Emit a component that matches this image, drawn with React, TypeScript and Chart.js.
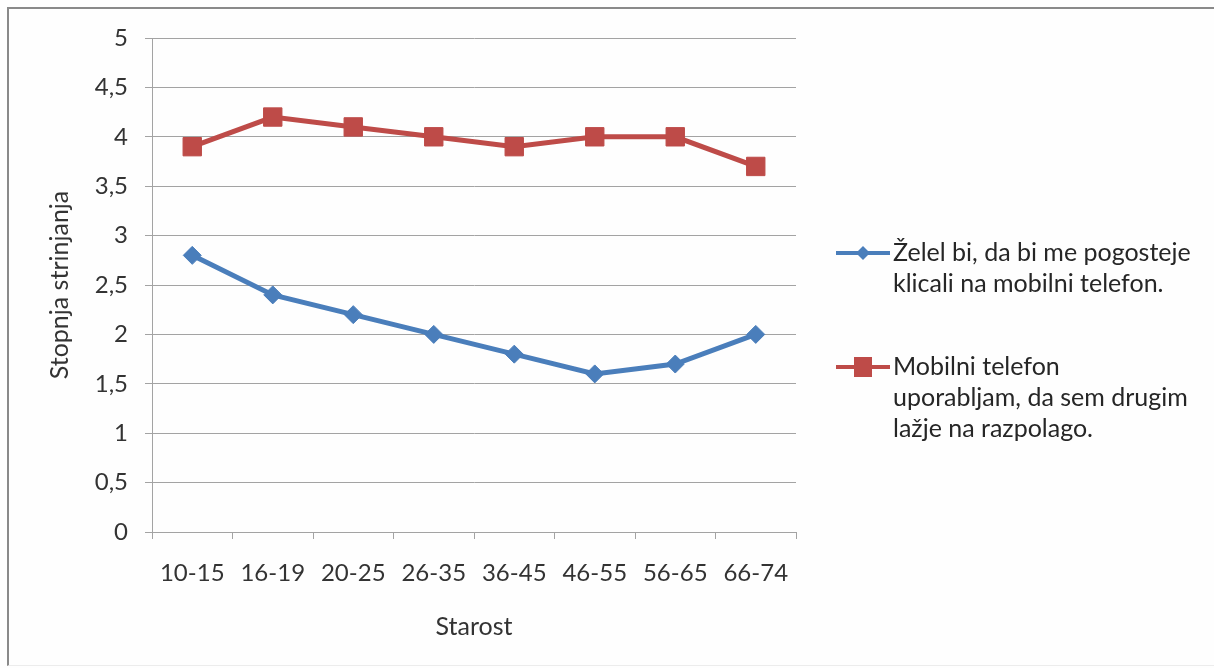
import React, { useEffect, useRef } from "react";
import { Chart, registerables } from "chart.js";

Chart.register(...registerables);

const categories = ["10-15", "16-19", "20-25", "26-35", "36-45", "46-55", "56-65", "66-74"];
const seriesCallsWish = [2.8, 2.4, 2.2, 2.0, 1.8, 1.6, 1.7, 2.0];
const seriesAvailability = [3.9, 4.2, 4.1, 4.0, 3.9, 4.0, 4.0, 3.7];
const nameCallsWish = "Želel bi, da bi me pogosteje klicali na mobilni telefon.";
const nameAvailability = "Mobilni telefon uporabljam, da sem drugim lažje na razpolago.";
const legendCallsWish = ["Želel bi, da bi me pogosteje", "klicali na mobilni telefon."];
const legendAvailability = ["Mobilni telefon", "uporabljam, da sem drugim", "lažje na razpolago."];
const xTitle = "Starost";
const yTitle = "Stopnja strinjanja";
const yMin = 0;
const yMax = 5;
const yStep = 0.5;

const BLUE = "#4a7ebb";
const RED = "#be4b48";
const TEXT = "#333333";
const GRID = "#a3a3a3";
const FONT = "Lato, 'Open Sans', sans-serif";

const sideLegend = {
  id: "sideLegend",
  afterDraw(chart: any) {
    const ctx = chart.ctx as CanvasRenderingContext2D;
    const items = [
      { lines: legendCallsWish, ds: 0, y: 253, marker: "diamond" },
      { lines: legendAvailability, ds: 1, y: 367, marker: "square" },
    ];
    ctx.save();
    items.forEach((it) => {
      const ds = chart.data.datasets[it.ds];
      ctx.strokeStyle = ds.borderColor;
      ctx.lineWidth = 4;
      ctx.beginPath();
      ctx.moveTo(836, it.y);
      ctx.lineTo(890, it.y);
      ctx.stroke();
      ctx.fillStyle = ds.borderColor;
      const cx = 863;
      if (it.marker === "diamond") {
        ctx.beginPath();
        ctx.moveTo(cx, it.y - 7);
        ctx.lineTo(cx + 7, it.y);
        ctx.lineTo(cx, it.y + 7);
        ctx.lineTo(cx - 7, it.y);
        ctx.closePath();
        ctx.fill();
      } else {
        ctx.fillRect(cx - 9, it.y - 10, 18, 20);
      }
      ctx.fillStyle = "#262626";
      ctx.font = `25px ${FONT}`;
      ctx.textBaseline = "middle";
      ctx.textAlign = "left";
      it.lines.forEach((line, i) => {
        ctx.fillText(line, 893, it.y + i * 31);
      });
    });
    ctx.restore();
  },
};

export default function App() {
  const ref = useRef<HTMLCanvasElement | null>(null);

  useEffect(() => {
    if (!ref.current) return;
    const chart = new Chart(ref.current, {
      type: "line",
      data: {
        labels: categories,
        datasets: [
          {
            label: nameCallsWish,
            data: seriesCallsWish,
            borderColor: BLUE,
            backgroundColor: BLUE,
            borderWidth: 5,
            pointStyle: "rectRot",
            pointRadius: 9,
            pointBorderWidth: 1,
            pointBackgroundColor: BLUE,
            pointBorderColor: BLUE,
            tension: 0,
          },
          {
            label: nameAvailability,
            data: seriesAvailability,
            borderColor: RED,
            backgroundColor: RED,
            borderWidth: 5,
            pointStyle: "rect",
            pointRadius: 13,
            pointBorderWidth: 1,
            pointBackgroundColor: RED,
            pointBorderColor: RED,
            tension: 0,
          },
        ],
      },
      options: {
        responsive: false,
        animation: false,
        layout: { padding: { left: 0, right: 418, top: 38, bottom: 0 } },
        plugins: {
          legend: { display: false },
          tooltip: { enabled: false },
        },
        scales: {
          x: {
            offset: true,
            ticks: {
              color: TEXT,
              font: { family: FONT, size: 24 },
              padding: 20,
              maxRotation: 0,
            },
            grid: {
              drawOnChartArea: false,
              drawTicks: true,
              tickLength: 7,
              color: GRID,
              offset: true,
            },
            border: { color: GRID, width: 1 },
            title: {
              display: true,
              text: xTitle,
              color: TEXT,
              font: { family: FONT, size: 25 },
              padding: { top: 0, bottom: 26 },
            },
            afterFit: (s: any) => {
              s.height = 136;
            },
          },
          y: {
            min: yMin,
            max: yMax,
            ticks: {
              stepSize: yStep,
              color: TEXT,
              font: { family: FONT, size: 24 },
              padding: 17,
              callback: (v: any) => String(v).replace(".", ","),
            },
            grid: {
              color: GRID,
              lineWidth: 1,
              tickLength: 7,
              drawTicks: true,
            },
            border: { color: GRID, width: 1 },
            title: {
              display: true,
              text: yTitle,
              color: TEXT,
              font: { family: FONT, size: 25 },
              padding: { top: 45, bottom: 0 },
            },
            afterFit: (s: any) => {
              s.width = 152;
            },
          },
        },
      },
      plugins: [sideLegend],
    });
    return () => chart.destroy();
  }, []);

  return (
    <div style={{ position: "fixed", left: 0, top: 0, width: 1214, height: 668, background: "#fefefe", overflow: "hidden" }}>
      <canvas ref={ref} width={1214} height={668} style={{ position: "absolute", left: 0, top: 0, width: 1214, height: 668 }} />
      <div
        style={{
          position: "absolute",
          left: 7,
          top: 7,
          width: 1220,
          height: 656,
          borderLeft: "2px solid #8a8a8a",
          borderTop: "2px solid #8a8a8a",
          borderBottom: "1px solid #ececec",
          pointerEvents: "none",
        }}
      />
    </div>
  );
}
